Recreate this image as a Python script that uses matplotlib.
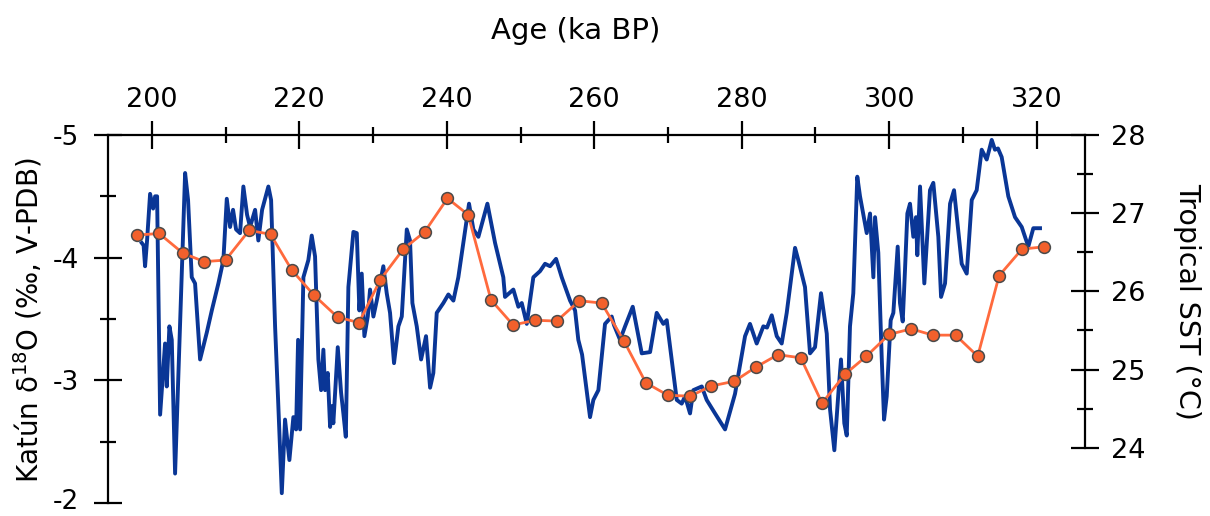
import matplotlib
matplotlib.use('Agg')
import matplotlib.pyplot as plt
from matplotlib.ticker import MultipleLocator, FixedLocator
from matplotlib.transforms import ScaledTranslation

plt.rcParams['font.family'] = 'DejaVu Sans'
plt.rcParams['axes.unicode_minus'] = False

# Katun speleothem d18O (ka BP, permil)
katun_age = [198.64, 198.89, 199.09, 199.36, 199.77, 200.18, 200.45, 200.72, 201.13, 201.80,
             202.03, 202.39, 202.71, 203.16, 204.52, 204.92, 205.42, 205.87, 206.55, 207.46,
             208.14, 209.03, 209.71, 210.17, 210.62, 211.02, 211.43, 211.97, 212.42, 212.92,
             213.33, 214.01, 214.45, 214.96, 215.81, 216.18, 216.72, 217.13, 217.63, 218.07,
             218.66, 219.20, 219.57, 219.84, 220.11, 220.56, 221.23, 221.69, 222.14, 222.59,
             222.96, 223.27, 223.50, 223.86, 224.18, 224.41, 224.62, 225.22, 225.67, 225.98,
             226.31, 226.66, 227.34, 227.80, 228.15, 228.47, 228.83, 229.29, 229.60, 230.05,
             230.51, 231.40, 231.86, 232.31, 232.85, 233.44, 233.90, 234.58, 235.02, 235.34,
             235.93, 236.52, 237.19, 237.74, 238.18, 238.64, 239.54, 240.22, 240.90, 241.57,
             243.02, 243.61, 244.29, 245.51, 246.55, 247.67, 247.90, 249.03, 249.71, 250.17,
             250.85, 251.74, 252.65, 253.33, 254.01, 254.82, 255.59, 256.72, 257.40, 257.84,
             258.35, 259.43, 259.88, 260.56, 261.46, 262.37, 262.68, 263.50, 264.18, 265.22,
             266.44, 267.57, 268.47, 269.37, 269.83, 271.19, 271.86, 272.31, 272.99, 273.44,
             274.58, 275.25, 276.38, 277.74, 279.09, 280.45, 281.12, 282.03, 282.93, 283.43,
             284.07, 284.75, 285.42, 286.10, 287.23, 287.67, 288.58, 289.26, 289.94, 290.75,
             291.53, 291.98, 292.56, 293.10, 293.46, 293.91, 294.24, 294.68, 295.13, 295.67,
             296.04, 296.95, 297.40, 297.85, 298.08, 298.52, 298.98, 299.30, 299.66, 300.20,
             300.56, 301.15, 301.46, 301.83, 302.14, 302.46, 302.82, 303.27, 303.63, 303.81,
             304.18, 304.76, 305.53, 305.98, 306.66, 307.03, 307.57, 308.25, 308.79, 309.83,
             310.51, 311.19, 311.86, 312.54, 313.22, 313.90, 314.34, 314.75, 315.25, 316.15,
             317.06, 317.97, 318.86, 319.54, 320.45]
katun_d18o = [-4.12, -4.10, -3.93, -4.14, -4.52, -4.40, -4.50, -4.50, -2.72, -3.30,
              -2.95, -3.44, -3.33, -2.24, -4.69, -4.47, -3.84, -3.79, -3.17, -3.39,
              -3.57, -3.79, -3.98, -4.48, -4.25, -4.39, -4.23, -4.20, -4.58, -4.35,
              -4.25, -4.39, -4.14, -4.39, -4.58, -4.47, -3.44, -2.84, -2.08, -2.68,
              -2.35, -2.70, -2.60, -3.33, -2.60, -3.84, -3.98, -4.18, -4.01, -3.17,
              -2.92, -3.25, -2.92, -3.06, -2.62, -2.79, -2.65, -3.27, -2.90, -2.73,
              -2.54, -3.76, -4.21, -4.20, -3.57, -3.87, -3.36, -3.52, -3.74, -3.52,
              -3.65, -3.93, -3.71, -3.55, -3.14, -3.44, -3.52, -4.23, -4.14, -3.63,
              -3.44, -3.17, -3.36, -2.94, -3.06, -3.55, -3.63, -3.70, -3.65, -3.84,
              -4.44, -4.23, -4.17, -4.44, -4.12, -3.84, -3.68, -3.74, -3.60, -3.63,
              -3.46, -3.84, -3.89, -3.95, -3.93, -3.99, -3.84, -3.65, -3.57, -3.33,
              -3.21, -2.70, -2.84, -2.92, -3.46, -3.52, -3.45, -3.33, -3.44, -3.60,
              -3.22, -3.23, -3.55, -3.46, -3.49, -2.84, -2.81, -2.87, -2.73, -2.92,
              -2.95, -2.84, -2.73, -2.60, -2.89, -3.36, -3.46, -3.30, -3.44, -3.43,
              -3.53, -3.36, -3.30, -3.55, -4.08, -3.98, -3.76, -3.22, -3.27, -3.71,
              -3.38, -2.76, -2.43, -2.89, -3.17, -2.65, -2.55, -3.44, -3.71, -4.66,
              -4.50, -4.20, -4.36, -3.84, -4.33, -4.04, -3.19, -2.68, -2.87, -3.49,
              -3.55, -4.09, -3.63, -3.48, -3.90, -4.36, -4.44, -4.17, -4.33, -4.02,
              -4.58, -3.79, -4.55, -4.61, -4.17, -3.68, -3.79, -4.44, -4.55, -3.95,
              -3.87, -4.47, -4.55, -4.88, -4.80, -4.96, -4.88, -4.89, -4.82, -4.50,
              -4.33, -4.25, -4.09, -4.24, -4.24]

# Tropical SST stack (ka BP, degC)
sst_age = [198.0, 201.0, 204.2, 207.1, 210.0, 213.2, 216.1, 219.0, 222.0, 225.2,
           228.1, 231.0, 234.1, 237.0, 240.1, 242.9, 246.0, 249.0, 252.0, 254.9,
           258.0, 261.0, 264.0, 267.0, 270.0, 273.0, 275.9, 279.0, 281.9, 284.9,
           288.0, 290.9, 294.0, 296.9, 300.0, 303.0, 305.9, 309.0, 312.0, 314.9,
           318.0, 321.0]
sst_val = [26.72, 26.74, 26.49, 26.38, 26.40, 26.78, 26.73, 26.27, 25.95, 25.67,
           25.60, 26.15, 26.54, 26.76, 27.19, 26.98, 25.89, 25.57, 25.63, 25.62,
           25.88, 25.85, 25.37, 24.83, 24.67, 24.66, 24.79, 24.85, 25.03, 25.19,
           25.15, 24.57, 24.94, 25.17, 25.45, 25.52, 25.44, 25.44, 25.17, 26.20,
           26.54, 26.57]

fig = plt.figure(figsize=(12.1, 5.16), dpi=100, facecolor='w')
ax1 = fig.add_axes([0.0893, 0.0252, 0.8074, 0.7132])

ax1.plot(katun_age, katun_d18o, color='#0a3696', linewidth=2.8, solid_joinstyle='round')
ax1.set_xlim(194.07, 326.55)
ax1.set_ylim(-2, -5)

ax1.xaxis.tick_top()
ax1.xaxis.set_major_locator(MultipleLocator(20))
ax1.xaxis.set_minor_locator(MultipleLocator(10))
ax1.yaxis.set_major_locator(MultipleLocator(1))
ax1.yaxis.set_minor_locator(MultipleLocator(0.5))
ax1.tick_params(which='major', direction='inout', length=20, width=1.6, labelsize=19.5, pad=6)
ax1.tick_params(which='minor', direction='inout', length=12, width=1.6)
ax1.tick_params(axis='y', which='major', pad=11, labelsize=19)

ax1.spines['bottom'].set_visible(False)
ax1.spines['right'].set_visible(False)
ax1.spines['top'].set_linewidth(1.6)
ax1.spines['left'].set_linewidth(1.6)

ax2 = ax1.twinx()
ax2.plot(sst_age, sst_val, '-o', color='#ff6a3d', linewidth=2.0,
         markersize=8.5, markerfacecolor='#f2602c', markeredgecolor='#4a4a4a', markeredgewidth=1.1)
ax2.set_ylim(23.293, 28)
ax2.yaxis.set_major_locator(FixedLocator([24, 25, 26, 27, 28]))
ax2.yaxis.set_minor_locator(FixedLocator([24.5, 25.5, 26.5, 27.5]))
ax2.tick_params(which='major', direction='inout', length=20, width=1.6, labelsize=19.5, pad=9)
ax2.tick_params(which='minor', direction='inout', length=12, width=1.6)
for s in ['top', 'bottom', 'left']:
    ax2.spines[s].set_visible(False)
ax2.spines['right'].set_bounds(24, 28)
ax2.spines['right'].set_linewidth(1.6)

fig.text(576 / 1210, 1 - 31 / 516, 'Age (ka BP)', fontsize=21, ha='center', va='center')
fig.text(28 / 1210, 1 - 320 / 516, 'Katún δ$^{18}$O (‰, V-PDB)', fontsize=20,
         rotation=90, ha='center', va='center')
fig.text(1187 / 1210, 1 - 301 / 516, 'Tropical SST (°C)', fontsize=20.5,
         rotation=270, ha='center', va='center')

# lift the bottom "-2" label a few pixels so it stays inside the canvas
fig.canvas.draw()
for lab in ax1.get_yticklabels():
    if lab.get_text() == '-2':
        lab.set_transform(lab.get_transform() + ScaledTranslation(0, 4 / 100, fig.dpi_scale_trans))

fig.savefig('out.png', dpi=100)
